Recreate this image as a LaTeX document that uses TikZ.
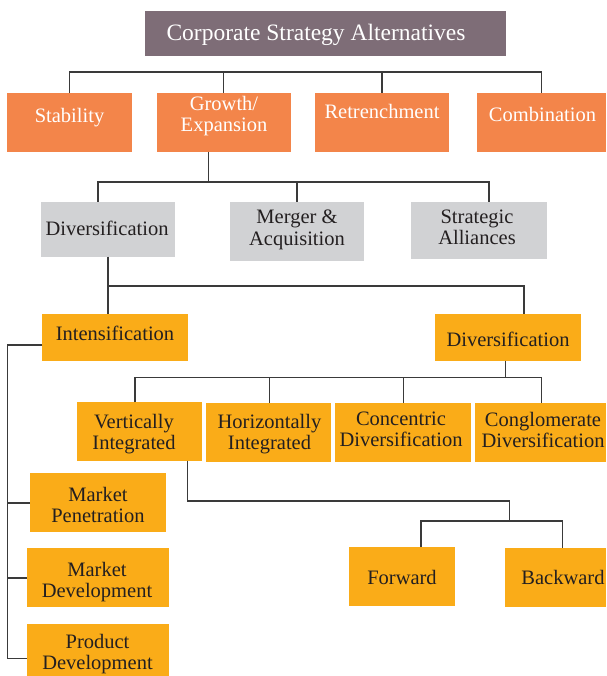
\documentclass[tikz,border=0pt]{standalone}
\usepackage{fontspec}
\setmainfont{Liberation Serif}
\usetikzlibrary{fit}
\definecolor{titlec}{HTML}{7E6D77}
\definecolor{orangec}{HTML}{F3854A}
\definecolor{grayc}{HTML}{D1D2D4}
\definecolor{yellowc}{HTML}{FAAC18}
\definecolor{linec}{HTML}{3A3A3A}
\definecolor{textc}{HTML}{231F20}
\newcommand{\bx}[6]{\node[boxx, fill=#6, fit={(#2,#3) (#4,#5)}] (#1) {};}
\begin{document}
\begin{tikzpicture}[x=1pt,y=-1pt,
  boxx/.style={rectangle, draw=none, inner sep=0pt, outer sep=0pt},
  wt/.style={text=white, align=center, inner sep=0pt, font=\fontsize{20.5}{21.5}\selectfont},
  bt/.style={text=textc, align=center, inner sep=0pt, font=\fontsize{20.5}{21.5}\selectfont},
  conn/.style={draw=linec, line width=1.1pt}]
\useasboundingbox (0,0) rectangle (606,676);
% boxes
\bx{title}{145}{11}{505.6}{55.7}{titlec}
\bx{stab}{7}{93}{132}{152}{orangec}
\bx{grow}{157}{93}{290.7}{152}{orangec}
\bx{retr}{315}{93}{449}{152}{orangec}
\bx{comb}{477}{93}{606}{152}{orangec}
\bx{divg}{41}{202}{175}{256.7}{grayc}
\bx{merg}{230}{202}{364}{260.7}{grayc}
\bx{stra}{411}{202}{546.6}{258.7}{grayc}
\bx{inte}{42}{314}{188}{360.7}{yellowc}
\bx{divo}{435}{314}{580.6}{360.7}{yellowc}
\bx{vert}{77}{402.3}{201.8}{460.7}{yellowc}
\bx{hori}{206}{403.3}{330.5}{461.7}{yellowc}
\bx{conc}{335}{403.3}{470.8}{461.7}{yellowc}
\bx{cong}{475}{403.3}{606}{461.7}{yellowc}
\bx{forw}{349}{547}{454.6}{605.7}{yellowc}
\bx{back}{505}{548}{606}{606.7}{yellowc}
\bx{mpen}{30}{473}{166}{532}{yellowc}
\bx{mdev}{27}{548}{169}{606.7}{yellowc}
\bx{pdev}{27}{624}{169}{690}{yellowc}
% texts
\node[wt, font=\fontsize{23.5}{25}\selectfont] (titleT) at (316,35) {Corporate Strategy Alternatives};
\node[wt] (stabT) at (69.5,118) {Stability};
\node[wt] (growT) at (224,116) {Growth/\\Expansion};
\node[wt] (retrT) at (382,111) {Retrenchment};
\node[wt] (combT) at (542.5,114) {Combination};
\node[bt] (divgT) at (107,228) {Diversification};
\node[bt] (mergT) at (297,230) {Merger \&\\Acquisition};
\node[bt] (straT) at (477,227.5) {Strategic\\Alliances};
\node[bt] (inteT) at (115,333) {Intensification};
\node[bt] (divoT) at (508,339) {Diversification};
\node[bt] (vertT) at (134,434) {Vertically\\Integrated};
\node[bt] (horiT) at (269.5,434) {Horizontally\\Integrated};
\node[bt] (concT) at (401,429.5) {Concentric\\Diversification};
\node[bt] (congT) at (543,430) {Conglomerate\\Diversification};
\node[bt] (forwT) at (402,577) {Forward};
\node[bt] (backT) at (563,577) {Backward};
\node[bt] (mpenT) at (98,505) {Market\\Penetration};
\node[bt] (mdevT) at (97,582) {Market\\Development};
\node[bt] (pdevT) at (97.5,654) {Product\\Development};
% bus coordinates
\coordinate (b1) at (0,72);
\coordinate (g1) at (208.7,182);
\coordinate (dg1) at (98,182);
\coordinate (st1) at (489,182);
\coordinate (b3) at (108,286);
\coordinate (b3r) at (524,286);
\coordinate (do1) at (505.6,377.3);
\coordinate (b4l) at (135,377.3);
\coordinate (b4r) at (541.5,377.3);
\coordinate (hb) at (269.8,377.3);
\coordinate (cb) at (403.6,377.3);
\coordinate (v1) at (187.9,501);
\coordinate (v2) at (509.5,521);
\coordinate (fw1) at (421,521);
\coordinate (bk1) at (562.8,521);
\coordinate (lft) at (7.7,345);
% connectors
\draw[conn] (stab.north) -- (stab.north |- b1) -- (comb.north |- b1) -- (comb.north);
\draw[conn] (grow.north |- b1) -- (grow.north);
\draw[conn] (retr.north |- b1) -- (retr.north);
\draw[conn] (g1 |- grow.south) -- (g1);
\draw[conn] (dg1 |- divg.north) -- (dg1) -- (st1) -- (st1 |- stra.north);
\draw[conn] (merg.north |- g1) -- (merg.north);
\draw[conn] (b3 |- divg.south) -- (b3 |- inte.north);
\draw[conn] (b3) -- (b3r) -- (b3r |- divo.north);
\draw[conn] (do1 |- divo.south) -- (do1);
\draw[conn] (b4l |- vert.north) -- (b4l) -- (b4r) -- (b4r |- cong.north);
\draw[conn] (hb) -- (hb |- hori.north);
\draw[conn] (cb) -- (cb |- conc.north);
\draw[conn] (v1 |- vert.south) -- (v1) -| (v2);
\draw[conn] (fw1 |- forw.north) -- (fw1) -- (bk1) -- (bk1 |- back.north);
\draw[conn] (inte.west |- lft) -- (lft) -- (lft |- 0,658.7) -- (pdev.west |- 0,658.7);
\draw[conn] (lft |- 0,503) -- (mpen.west |- 0,503);
\draw[conn] (lft |- 0,578) -- (mdev.west |- 0,578);
\end{tikzpicture}
\end{document}
